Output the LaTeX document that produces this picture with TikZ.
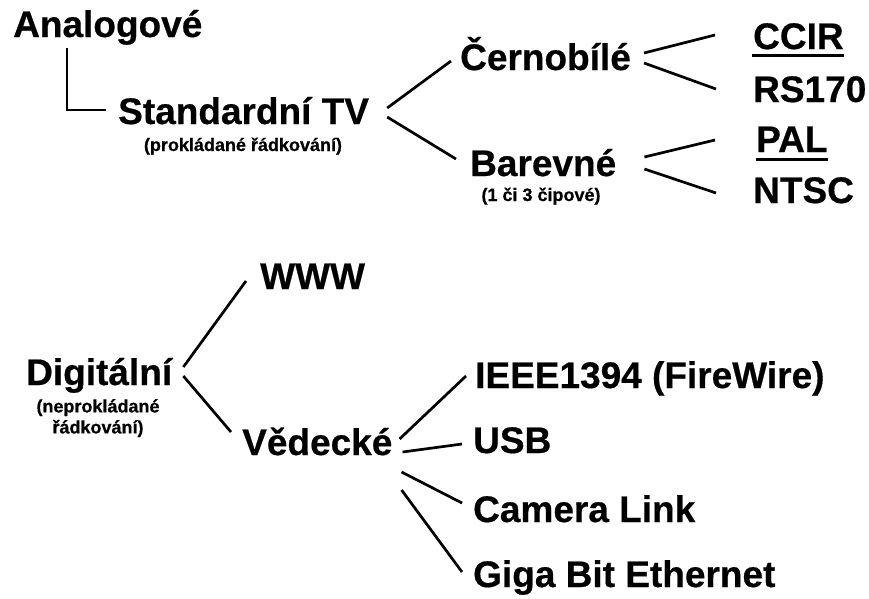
\documentclass[tikz,border=0pt]{standalone}
\usepackage{fontspec}
\setmainfont{Liberation Sans}[BoldFeatures={FakeBold=0.5}]
\usetikzlibrary{calc}

\tikzset{
  bigtext/.style={inner sep=0pt, anchor=base west, font=\fontsize{37}{40}\selectfont\bfseries},
  subtext/.style={inner sep=0pt, anchor=base, align=center, font=\fontsize{18}{21}\selectfont\bfseries},
  branch/.style={line width=2.7pt, line cap=butt},
}

\begin{document}
\begin{tikzpicture}[x=1pt, y=-1pt]
			\useasboundingbox (0,0) rectangle (869,598);
			
			% analogove
			\node[bigtext] (analog) at (13,37) {Analogové};
			\node[bigtext] (std) at (118,124) {Standardní TV};
			\node[subtext] (stdsub) at (243,151) {(prokládané řádkování)};
			\node[bigtext] (cerno) at (460,70) {Černobílé};
			\node[bigtext] (barev) at (470,176) {Barevné};
			\node[subtext] (barevsub) at (541,201) {(1 či 3 čipové)};
			\node[bigtext] (ccir) at (753,49) {CCIR};
			\node[bigtext] (rs) at (753,102) {RS170};
			\node[bigtext] (pal) at (756,152) {PAL};
			\node[bigtext] (ntsc) at (753,203) {NTSC};
			
			\draw[branch] ($(analog.base west)+(54,11)$) |- ($(std.base west)+(-12,-14)$);
			\draw[branch] ($(std.base east)+(18,-16)$) -- ($(cerno.base west)+(-9,-9)$);
			\draw[branch] ($(std.base east)+(18,-7)$) -- ($(barev.base west)+(-14,-17)$);
			\draw[branch] ($(cerno.base east)+(13,-17)$) -- ($(ccir.base west)+(-38,-14)$);
			\draw[branch] ($(cerno.base east)+(13,-7)$) -- ($(rs.base west)+(-37,-13)$);
			\draw[branch] ($(barev.base east)+(28,-19)$) -- ($(pal.base west)+(-41,-12)$);
			\draw[branch] ($(barev.base east)+(28,-7)$) -- ($(ntsc.base west)+(-37,-10)$);
			\draw[line width=3pt] ($(ccir.base west)+(-1,6)$) -- ($(ccir.base east)+(0,6)$);
			\draw[line width=3pt] ($(pal.base west)+(0,7)$) -- ($(pal.base east)+(0,7)$);
			
			% digitalni
			\node[bigtext] (digi) at (26,385) {Digitální};
			\node[subtext, anchor=north] (digisub) at (98,399) {(neprokládané\\řádkování)};
			\node[bigtext] (www) at (260,289) {WWW};
			\node[bigtext] (ved) at (242,455) {Vědecké};
			\node[bigtext] (ieee) at (475,388) {IEEE1394 (FireWire)};
			\node[bigtext] (usb) at (473,453) {USB};
			\node[bigtext] (cam) at (473,522) {Camera Link};
			\node[bigtext] (giga) at (473,587) {Giga Bit Ethernet};
			
			\draw[branch] ($(digi.base east)+(11,-18)$) -- ($(www.base west)+(-14,-8)$);
			\draw[branch] ($(digi.base east)+(11,-9)$) -- ($(ved.base west)+(-11,-23)$);
			\draw[branch] ($(ved.base east)+(7,-16)$) -- ($(ieee.base west)+(-9,-12)$);
			\draw[branch] ($(ved.base east)+(10,-3)$) -- ($(usb.base west)+(-11,-9)$);
			\draw[branch] ($(ved.base east)+(9,17)$) -- ($(cam.base west)+(-11,-19)$);
			\draw[branch] ($(ved.base east)+(9,35)$) -- ($(giga.base west)+(-11,-15)$);
\end{tikzpicture}
\end{document}
